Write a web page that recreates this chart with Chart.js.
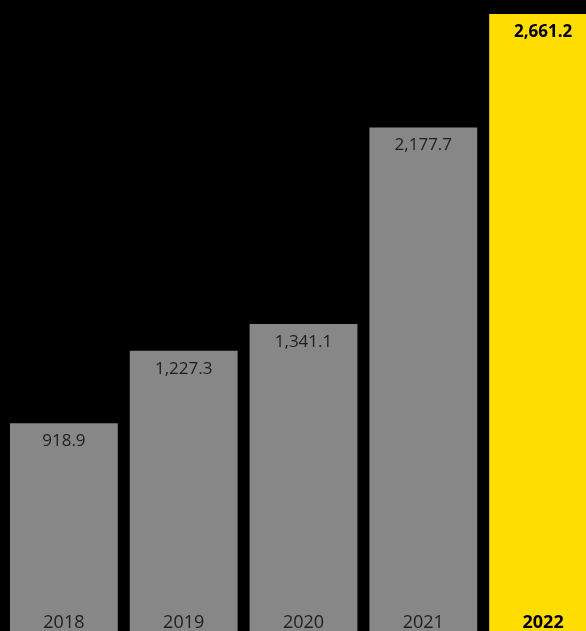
<!DOCTYPE html>
<html>
<head>
<meta charset="utf-8">
<script src="https://cdn.jsdelivr.net/npm/chart.js@4/dist/chart.umd.min.js"></script>
<style>
  html, body { margin: 0; padding: 0; background: #000; overflow: hidden; }
  #wrap { width: 607px; height: 639px; position: relative; }
</style>
</head>
<body>
<div id="wrap"><canvas id="c" width="607" height="639"></canvas></div>
<script>
// Revenue by year
const years = ['2018', '2019', '2020', '2021', '2022'];
const values = [918.9, 1227.3, 1341.1, 2177.7, 2661.2];
const valueLabels = ['918.9', '1,227.3', '1,341.1', '2,177.7', '2,661.2'];

const GREY = '#878787';
const YELLOW = '#FFDD00';
const highlight = years.length - 1;

const barText = {
  id: 'barText',
  afterDatasetsDraw(chart) {
    const ctx = chart.ctx;
    const meta = chart.getDatasetMeta(0);
    const bottom = chart.chartArea.bottom;
    ctx.save();
    ctx.textAlign = 'center';
    ctx.textBaseline = 'middle';
    meta.data.forEach((bar, i) => {
      const bold = i === highlight;
      ctx.fillStyle = bold ? '#000' : '#1e1e1e';
      ctx.font = (bold ? '700 ' : '400 ') + '17px "Open Sans", sans-serif';
      ctx.fillText(valueLabels[i], bar.x, bar.y + 18);
      ctx.font = (bold ? '700 ' : '400 ') + '18px "Open Sans", sans-serif';
      ctx.fillText(years[i], bar.x, bottom - 16);
    });
    ctx.restore();
  }
};

new Chart(document.getElementById('c'), {
  type: 'bar',
  data: {
    labels: years,
    datasets: [{
      data: values,
      backgroundColor: years.map((_, i) => i === highlight ? YELLOW : GREY),
      borderWidth: 0,
      barPercentage: 0.9,
      categoryPercentage: 1.0
    }]
  },
  options: {
    responsive: false,
    animation: false,
    layout: { padding: { left: 4, right: 4, top: 0, bottom: 0 } },
    plugins: { legend: { display: false }, tooltip: { enabled: false } },
    scales: {
      x: { display: false },
      y: { display: false, min: 0, max: 2721 }
    }
  },
  plugins: [barText]
});
</script>
</body>
</html>
